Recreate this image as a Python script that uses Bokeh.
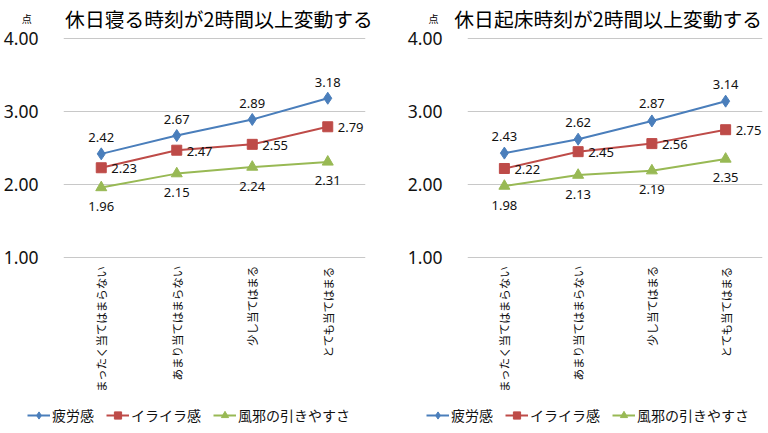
import math
from bokeh.plotting import figure
from bokeh.models import (FactorRange, Range1d, PrintfTickFormatter, ColumnDataSource,
                          LabelSet, Label, Legend, LegendItem)
from bokeh.layouts import row, column
from bokeh.embed import file_html
from bokeh.resources import INLINE
from bokeh.core.properties import value

categories = ["まったく当てはまらない", "あまり当てはまらない", "少し当てはまる", "とても当てはまる"]
series_names = ["疲労感", "イライラ感", "風邪の引きやすさ"]
titles = ["休日寝る時刻が2時間以上変動する", "休日起床時刻が2時間以上変動する"]
unit_label = "点"
y_ticks = [1, 2, 3, 4]

sleep_fatigue = [2.42, 2.67, 2.89, 3.18]
sleep_irritation = [2.23, 2.47, 2.55, 2.79]
sleep_cold = [1.96, 2.15, 2.24, 2.31]

wake_fatigue = [2.43, 2.62, 2.87, 3.14]
wake_irritation = [2.22, 2.45, 2.56, 2.75]
wake_cold = [1.98, 2.13, 2.19, 2.35]

colors = ["#4A7EBB", "#BE4B48", "#98B954"]
markers = ["diamond", "square", "triangle"]
marker_sizes = [12, 10, 11]

JP = "Noto Sans CJK JP"
NUM = "Noto Sans"

W1, W2 = 394, 372
CHART_H = 398
FOOT_H = 30
FRAME_H = 221
TOP_B = 37
PX_PER_UNIT = FRAME_H / 3.02


def make_panel(title_text, series, width, mbl, frame_w, title_px, unit_px, unit_side, blue_dy):
    p = figure(x_range=FactorRange(factors=categories, range_padding=0),
               y_range=Range1d(0.99, 4.01),
               width=width, height=CHART_H,
               min_border_left=mbl, min_border_right=width - mbl - frame_w,
               min_border_top=TOP_B, min_border_bottom=CHART_H - TOP_B - FRAME_H,
               output_backend="svg", toolbar_location=None)
    p.outline_line_color = None
    p.background_fill_color = "white"
    p.border_fill_color = "white"
    p.xgrid.visible = False
    p.ygrid.grid_line_color = "#C8C8C8"
    p.ygrid.grid_line_width = 1

    p.yaxis.ticker = y_ticks
    p.yaxis.formatter = PrintfTickFormatter(format="%.2f")
    p.yaxis.axis_line_color = None
    p.yaxis.major_tick_line_color = None
    p.yaxis.minor_tick_line_color = None
    p.yaxis.major_label_standoff = 19
    p.yaxis.major_label_text_font = NUM
    p.yaxis.major_label_text_font_size = "17.5px"
    p.yaxis.major_label_text_color = "#111111"

    p.xaxis.axis_line_color = None
    p.xaxis.major_tick_line_color = None
    p.xaxis.minor_tick_line_color = None
    p.xaxis.major_label_orientation = math.pi / 2
    p.xaxis.major_label_standoff = 1
    p.xaxis.major_label_text_font = JP
    p.xaxis.major_label_text_font_size = "11.5px"
    p.xaxis.major_label_text_color = "#111111"

    placements = [
        dict(text_align="center", x_offset=0, y_offset=blue_dy),
        dict(text_align="left", x_offset=10, y_offset=-1),
        dict(text_align="center", x_offset=0, y_offset=-19),
    ]
    for name, vals, col, mk, ms, pl in zip(series_names, series, colors, markers, marker_sizes, placements):
        src = ColumnDataSource(dict(x=categories, y=vals, t=["%.2f" % v for v in vals]))
        p.line("x", "y", source=src, line_color=col, line_width=2)
        p.scatter("x", "y", source=src, marker=mk, size=ms, fill_color=col, line_color=col)
        p.add_layout(LabelSet(x="x", y="y", text="t", source=src, text_font=value(NUM),
                              text_font_size="13px", text_color="#111111",
                              text_baseline="middle", **pl))

    # title and unit outside the frame (positions given in pixels relative to the frame's top-left)
    cat_w = frame_w / len(categories)
    title_y = 4.01 + (TOP_B - 17.5) / PX_PER_UNIT
    unit_y = 4.01 + (TOP_B - 18) / PX_PER_UNIT
    p.add_layout(Label(x=title_px / cat_w, y=title_y, text=title_text, text_font=JP,
                       text_font_size="19.8px", text_color="#000000",
                       text_align="center", text_baseline="middle"), "above")
    p.add_layout(Label(x=unit_px / cat_w, y=unit_y, text=unit_label, text_font=JP,
                       text_font_size="10px", text_color="#000000",
                       text_align="center", text_baseline="middle"), unit_side)
    return p


def blank(width, height):
    f = figure(x_range=Range1d(0, width), y_range=Range1d(0, height),
               width=width, height=height, min_border=0,
               x_axis_type=None, y_axis_type=None,
               output_backend="svg", toolbar_location=None)
    f.outline_line_color = None
    f.background_fill_color = "white"
    f.border_fill_color = "white"
    return f


p1 = make_panel(titles[0], [sleep_fatigue, sleep_irritation, sleep_cold], W1, 61, 304,
                217.5 - 61, 24 - 61, "right", 16)
p2 = make_panel(titles[1], [wake_fatigue, wake_irritation, wake_cold], W2, 65, 303,
                603.5 - 459, 424 - 459, "left", 17)

# footer with the two legends (legend-only renderers carry no visible data)
foot = blank(W1 + W2, FOOT_H)
nan = float("nan")
leg_renderers = []
for col, mk in zip(colors, markers):
    lr = foot.line(x=[nan], y=[nan], line_color=col, line_width=2)
    sr = foot.scatter(x=[nan], y=[nan], marker=mk, fill_color=col, line_color=col)
    leg_renderers.append([lr, sr])
for lx in [27, 426]:
    items = [LegendItem(label=n, renderers=r) for n, r in zip(series_names, leg_renderers)]
    foot.add_layout(Legend(items=items, location=(lx, 3), orientation="horizontal",
                           label_text_font=JP, label_text_font_size="14px",
                           label_text_color="#111111",
                           glyph_width=23, glyph_height=18, label_height=18, label_standoff=2,
                           spacing=12, padding=0, margin=0, border_line_color=None,
                           background_fill_alpha=0))

layout = column(row(p1, p2), foot)
open("out.html", "w").write(file_html(layout, INLINE))
